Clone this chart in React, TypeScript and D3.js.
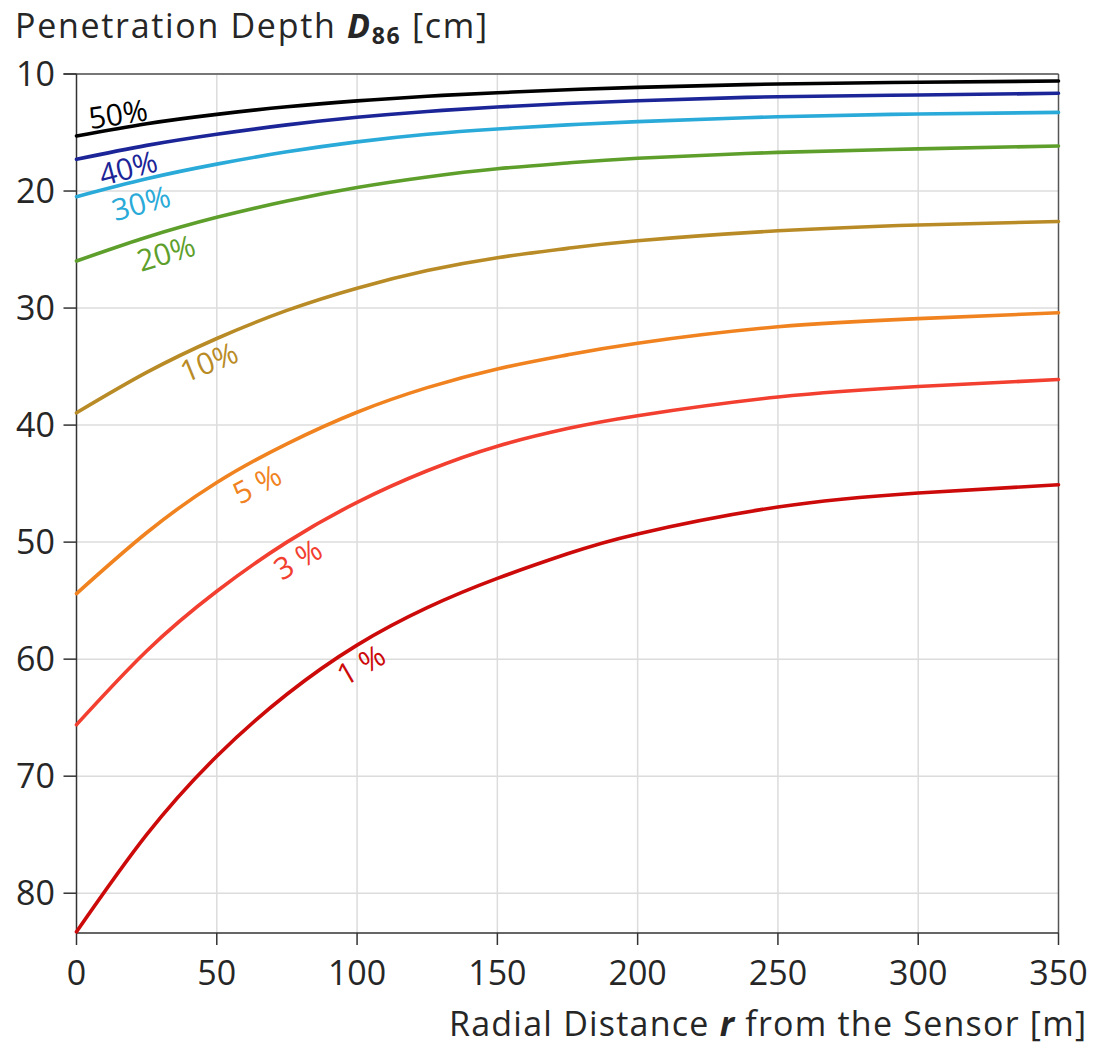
import React from 'react';
import * as d3 from 'd3';

// radial distance samples [m]
const distances = [0, 25, 50, 75, 100, 125, 150, 175, 200, 250, 300, 350];

// penetration depth D86 [cm] per soil moisture
const depth50 = [15.3, 14.25, 13.45, 12.8, 12.3, 11.9, 11.6, 11.35, 11.14, 10.85, 10.71, 10.6];
const depth40 = [17.29, 16.1, 15.15, 14.35, 13.7, 13.2, 12.82, 12.52, 12.28, 11.94, 11.8, 11.65];
const depth30 = [20.48, 18.95, 17.7, 16.65, 15.8, 15.15, 14.7, 14.35, 14.07, 13.65, 13.42, 13.28];
const depth20 = [25.98, 23.95, 22.25, 20.85, 19.7, 18.8, 18.1, 17.6, 17.2, 16.7, 16.4, 16.15];
const depth10 = [38.95, 35.5, 32.6, 30.2, 28.3, 26.8, 25.7, 24.9, 24.25, 23.4, 22.9, 22.6];
const depth5 = [54.4, 49.2, 44.9, 41.6, 38.9, 36.8, 35.2, 34.0, 33.0, 31.6, 30.9, 30.4];
const depth3 = [65.6, 59.3, 54.2, 50.0, 46.6, 43.9, 41.8, 40.3, 39.2, 37.6, 36.7, 36.1];
const depth1 = [83.3, 75.0, 68.3, 63.0, 58.8, 55.6, 53.1, 51.0, 49.3, 47.0, 45.8, 45.1];

const seriesLabels = ['50%', '40%', '30%', '20%', '10%', '5 %', '3 %', '1 %'];
const seriesValues = [depth50, depth40, depth30, depth20, depth10, depth5, depth3, depth1];
const seriesColors = ['#000000', '#1b2597', '#2aaad8', '#5e9f2c', '#b98b26', '#f0831f', '#f23f30', '#cc0a0a'];

// label anchor (r, D) and rotation
const labelR = [14.8, 18.4, 23.0, 31.9, 47.2, 64.3, 78.9, 101.4];
const labelD = [13.42, 18.03, 21.03, 25.3, 34.6, 45.04, 51.45, 60.5];
const labelAngle = [-9, -15, -15, -17, -22, -27, -30, -30];

const xTicks = [0, 50, 100, 150, 200, 250, 300, 350];
const yTicks = [10, 20, 30, 40, 50, 60, 70, 80];

const W = 1096;
const H = 1045;
const FONT = '"Open Sans", "Noto Sans", sans-serif';
const TXT = '#262626';

export default function App() {
  const x = d3.scaleLinear().domain([0, 350]).range([76.5, 1058.5]);
  const y = d3.scaleLinear().domain([10, 83.4]).range([74, 933]);

  const line = d3
    .line<number>()
    .x((_, i) => x(distances[i]))
    .y(d => y(d))
    .curve(d3.curveNatural);

  const [x0, x1] = x.range();
  const [y0, y1] = y.range();

  return (
    <svg width={W} height={H} style={{ position: 'absolute', left: 0, top: 0, background: '#fff' }} fontFamily={FONT}>
      {/* grid */}
      <g stroke="#dcdcdc" strokeWidth={1.5}>
        {xTicks.slice(1, -1).map(t => (
          <line key={'gx' + t} x1={x(t)} x2={x(t)} y1={y0} y2={y1} />
        ))}
        {yTicks.slice(1).map(t => (
          <line key={'gy' + t} x1={x0} x2={x1} y1={y(t)} y2={y(t)} />
        ))}
      </g>

      {/* frame */}
      <line x1={x0 - 13} x2={x1} y1={y0} y2={y0} stroke="#777" strokeWidth={2} />
      <line x1={x1} x2={x1} y1={y0} y2={y1} stroke="#555" strokeWidth={1.5} />
      <line x1={x0} x2={x0} y1={y0} y2={y1} stroke="#333" strokeWidth={1.5} />
      <line x1={x0} x2={x1} y1={y1} y2={y1} stroke="#333" strokeWidth={1.5} />

      {/* y axis */}
      {yTicks.map(t => (
        <g key={'ty' + t}>
          <line x1={x0 - 13} x2={x0} y1={y(t)} y2={y(t)} stroke="#333" strokeWidth={1.5} />
          <text x={55} y={y(t)} dy="0.36em" textAnchor="end" fontSize={34} fill={TXT}>
            {t}
          </text>
        </g>
      ))}

      {/* x axis */}
      {xTicks.map(t => (
        <g key={'tx' + t}>
          <line x1={x(t)} x2={x(t)} y1={y1} y2={y1 + 12} stroke="#333" strokeWidth={1.5} />
          <text x={x(t)} y={985} textAnchor="middle" fontSize={34} fill={TXT}>
            {t}
          </text>
        </g>
      ))}

      {/* curves */}
      {seriesValues.map((vals, i) => (
        <path key={'s' + i} d={line(vals) || ''} fill="none" stroke={seriesColors[i]} strokeWidth={3.6} strokeLinecap="round" />
      ))}

      {/* curve labels */}
      {seriesLabels.map((lab, i) => (
        <text
          key={'l' + i}
          transform={`translate(${x(labelR[i])},${y(labelD[i])}) rotate(${labelAngle[i]})`}
          textAnchor="middle"
          dy="0.36em"
          fontSize={30}
          fill={seriesColors[i]}
        >
          {lab}
        </text>
      ))}

      {/* titles */}
      <text x={15} y={38} fontSize={34} fill={TXT} textLength={472} lengthAdjust="spacing">
        Penetration Depth{' '}
        <tspan fontWeight="bold" fontStyle="italic">D</tspan>
        <tspan fontWeight="bold" fontSize={23} dy={6}>86</tspan>
        <tspan dy={-6}> [cm]</tspan>
      </text>
      <text x={449} y={1036} fontSize={34} fill={TXT} textLength={637} lengthAdjust="spacing">
        Radial Distance <tspan fontWeight="bold" fontStyle="italic">r</tspan> from the Sensor [m]
      </text>
    </svg>
  );
}
